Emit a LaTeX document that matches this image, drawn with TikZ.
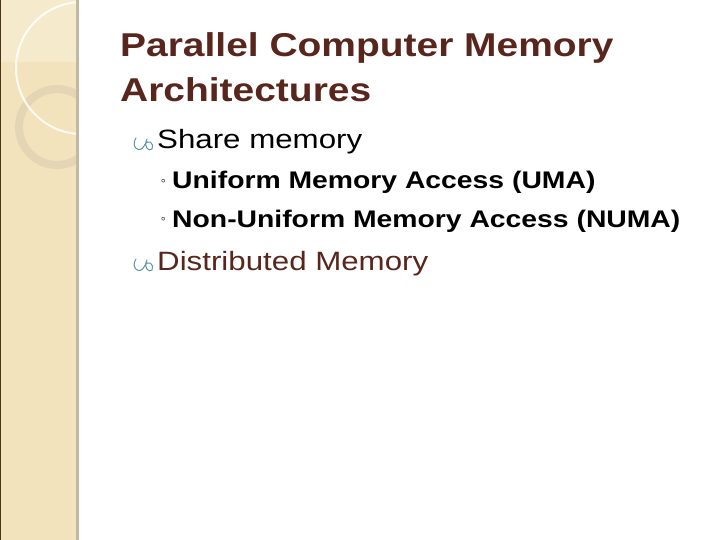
\documentclass[tikz,border=0pt]{standalone}
\usepackage{fontspec}
\setmainfont{Liberation Sans}
\usetikzlibrary{positioning,calc}
\definecolor{titlebrown}{RGB}{88,38,28}
\definecolor{stripfill}{RGB}{243,227,188}
\definecolor{stripedge}{RGB}{196,184,160}
\definecolor{ringtan}{RGB}{228,214,180}
\definecolor{curlteal}{RGB}{92,150,160}
\newcommand{\wide}[1]{\scalebox{1.18}[1]{#1}}
\tikzset{
  title/.style={anchor=base west, inner sep=0pt, font=\fontsize{33}{38}\selectfont\bfseries, text=titlebrown},
  lvlone/.style={anchor=base west, inner sep=0pt, font=\fontsize{26.5}{30}\selectfont},
  lvltwo/.style={anchor=base west, inner sep=0pt, font=\fontsize{24}{28}\selectfont\bfseries},
  curl/.style={curlteal, line width=1pt, line cap=round}
}
\newcommand{\curlmark}[1]{%
  \draw[curl] ($(#1)+(-21,-11)$) .. controls ($(#1)+(-27,-2)$) and ($(#1)+(-17,5)$) .. ($(#1)+(-13,-3)$)
    .. controls ($(#1)+(-9,-12)$) and ($(#1)+(-2,-5)$) .. ($(#1)+(-5,0)$)
    .. controls ($(#1)+(-8,3)$) and ($(#1)+(-14,-2)$) .. ($(#1)+(-10,-10)$);}
\begin{document}
\begin{tikzpicture}[x=1pt, y=-1pt]
\useasboundingbox (0,0) rectangle (720,540);
\fill[white] (0,0) rectangle (720,540);
% the side strip
\begin{scope}
\clip (0,0) rectangle (78,540);
\fill[stripfill] (0,0) rectangle (78,540);
\fill[white, opacity=0.25] (0,0) rectangle (78,62);
\draw[ringtan, line width=8pt] (57,127) circle (38);
\draw[white, opacity=0.85, line width=2pt] (82,68) circle (66);
\end{scope}
\draw[stripedge, line width=3pt] (77,0) -- (77,540);
\draw[black!60!brown, line width=1pt] (0.5,0) -- (0.5,540);
% the title
\node[title] (t1) at (120,57) {\wide{Parallel Computer Memory}};
\node[title] (t2) at (120,102) {\wide{Architectures}};
% the bullets
\node[lvlone] (share) at (157,149) {\wide{Share memory}};
\node[lvltwo] (uma) at (172,189) {\wide{Uniform Memory Access (UMA)}};
\node[lvltwo] (numa) at (172,227) {\wide{Non-Uniform Memory Access (NUMA)}};
\node[lvlone, text=titlebrown] (dist) at (157,270) {\wide{Distributed Memory}};
\curlmark{share.base west}
\curlmark{dist.base west}
\node[anchor=base east, inner sep=0pt, font=\fontsize{14}{14}\selectfont] at ($(uma.base west)+(-6,-3)$) {◦};
\node[anchor=base east, inner sep=0pt, font=\fontsize{14}{14}\selectfont] at ($(numa.base west)+(-6,-3)$) {◦};
\end{tikzpicture}
\end{document}
